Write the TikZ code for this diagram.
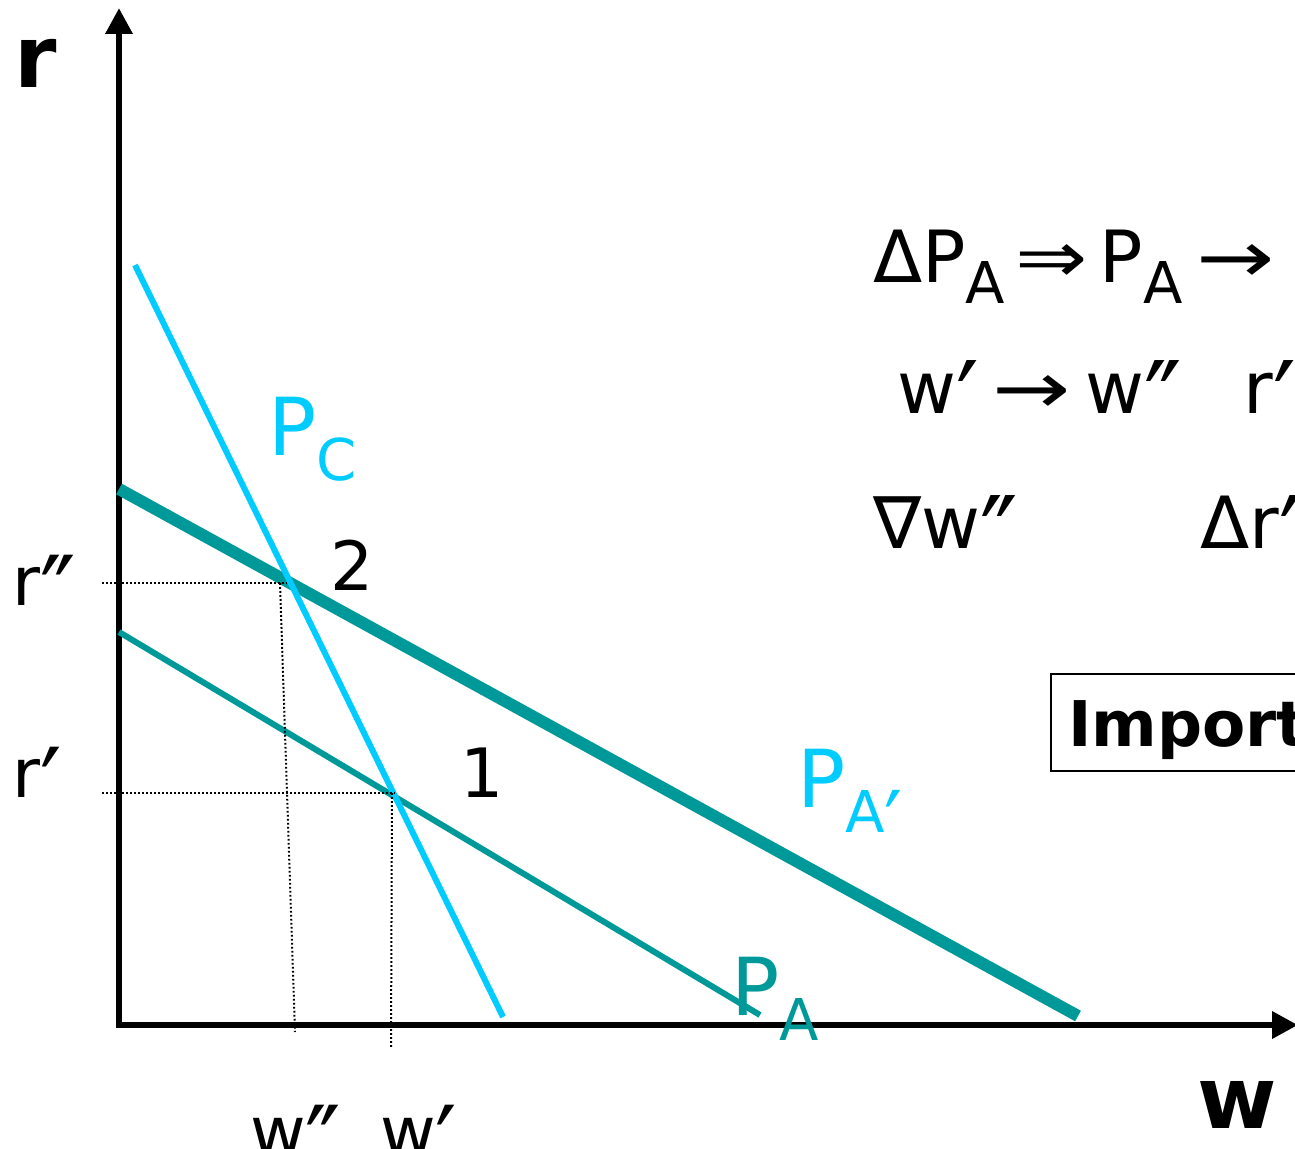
\documentclass[tikz,border=0pt]{standalone}
\usepackage{fontspec}
\setmainfont{DejaVu Sans}
\usetikzlibrary{arrows.meta}
\definecolor{lblue}{HTML}{00CCFF}
\definecolor{teal2}{HTML}{009999}
\newcommand{\lowsub}[1]{\raisebox{-0.32em}{\scalebox{0.72}{#1}}}
\newcommand{\rsub}[1]{\raisebox{-0.3em}{\scalebox{0.8}{#1}}}
\newcommand{\pr}{\raisebox{-0.44em}{\scalebox{1.4}[1.6]{′}}}
\newcommand{\ppr}{\raisebox{-0.44em}{\scalebox{1.4}[1.6]{″}}}
\newcommand{\rar}{\scalebox{1.3}[1]{→}}
\newcommand{\Rar}{\scalebox{1.2}[1]{⇒}}
\tikzset{
  axis/.style={line width=6.5, -{Triangle[length=26,width=26]}},
  guide/.style={line width=2, dash pattern=on 1.8 off 2.2},
  lbl/.style={anchor=base west, inner sep=0, font=\fontsize{68}{80}\selectfont},
  biglbl/.style={anchor=base west, inner sep=0, font=\fontsize{86}{90}\selectfont\bfseries},
}
\begin{document}
\begin{tikzpicture}[x=1pt,y=-1pt]
\useasboundingbox (0,0) rectangle (1295,1148);
% axes
\coordinate (O1) at (119,1028);
\coordinate (ytop) at (119,8);
\coordinate (O2) at (116,1025);
\coordinate (xend) at (1298,1025);
\draw[axis] (O1) -- (ytop);
\draw[axis] (O2) -- (xend);
% curves
\coordinate (pc1) at (135,265);
\coordinate (pc2) at (503,1017);
\coordinate (pap1) at (119,489);
\coordinate (pap2) at (1078,1016);
\coordinate (pa1) at (119,632);
\coordinate (pa2) at (760,1015);
\draw[teal2, line width=6] (pa1) -- (pa2);
\draw[teal2, line width=12] (pap1) -- (pap2);
\draw[lblue, line width=6] (pc1) -- (pc2);
% guide lines
\coordinate (p2) at (287,583);
\coordinate (p1) at (395,793);
\coordinate (g2a) at (102,583);
\coordinate (g1a) at (102,793);
\coordinate (v2a) at (280,583);
\coordinate (v2b) at (295,1032);
\coordinate (v1a) at (392,793);
\coordinate (v1b) at (391,1048);
\draw[guide] (g2a) -- (p2);
\draw[guide] (g1a) -- (p1);
\draw[guide] (v2a) -- (v2b);
\draw[guide] (v1a) -- (v1b);
% axis labels
\node[biglbl] (rlab) at (14,88) {r};
\node[biglbl] (wlab) at (1197,1128) {w};
\node[lbl] (rpp) at (12,605) {r\ppr};
\node[lbl] (rp) at (12,797) {r\pr};
\node[lbl] (wpp) at (250,1155) {w\ppr};
\node[lbl] (wp) at (380,1155) {w\pr};
\node[lbl] (n2) at (330,590) {2};
\node[lbl] (n1) at (460,797) {1};
% curve labels
\node[lbl, text=lblue, font=\fontsize{80}{90}\selectfont] (PC) at (268,455) {P\lowsub{C}};
\node[lbl, text=lblue, font=\fontsize{80}{90}\selectfont] (PAp) at (797,807) {P\lowsub{A\pr}};
\node[lbl, text=teal2, font=\fontsize{80}{90}\selectfont] (PA) at (731,1015) {P\lowsub{A}};
% explanation text
\node[lbl, font=\fontsize{72}{80}\selectfont] (t1) at (873,282) {ΔP\rsub{A}\hspace{10pt}\Rar\hspace{12pt}P\rsub{A}\hspace{14pt}\rar};
\node[lbl, font=\fontsize{72}{80}\selectfont] (t2) at (897,413) {w\pr\hspace{14pt}\rar\hspace{14pt}w\ppr\hspace{62pt}r\pr};
\node[lbl, font=\fontsize{72}{80}\selectfont] (t3) at (873,548) {∇w\ppr};
\node[lbl, font=\fontsize{72}{80}\selectfont] (t4) at (1200,548) {Δr\ppr};
% box
\node[draw, line width=2, anchor=north west, minimum width=260, minimum height=97, inner sep=0] (box) at (1050,673) {};
\node[anchor=base west, inner sep=0, font=\fontsize{63}{70}\selectfont\bfseries] (imp) at (1068,746) {Import};
\end{tikzpicture}
\end{document}
